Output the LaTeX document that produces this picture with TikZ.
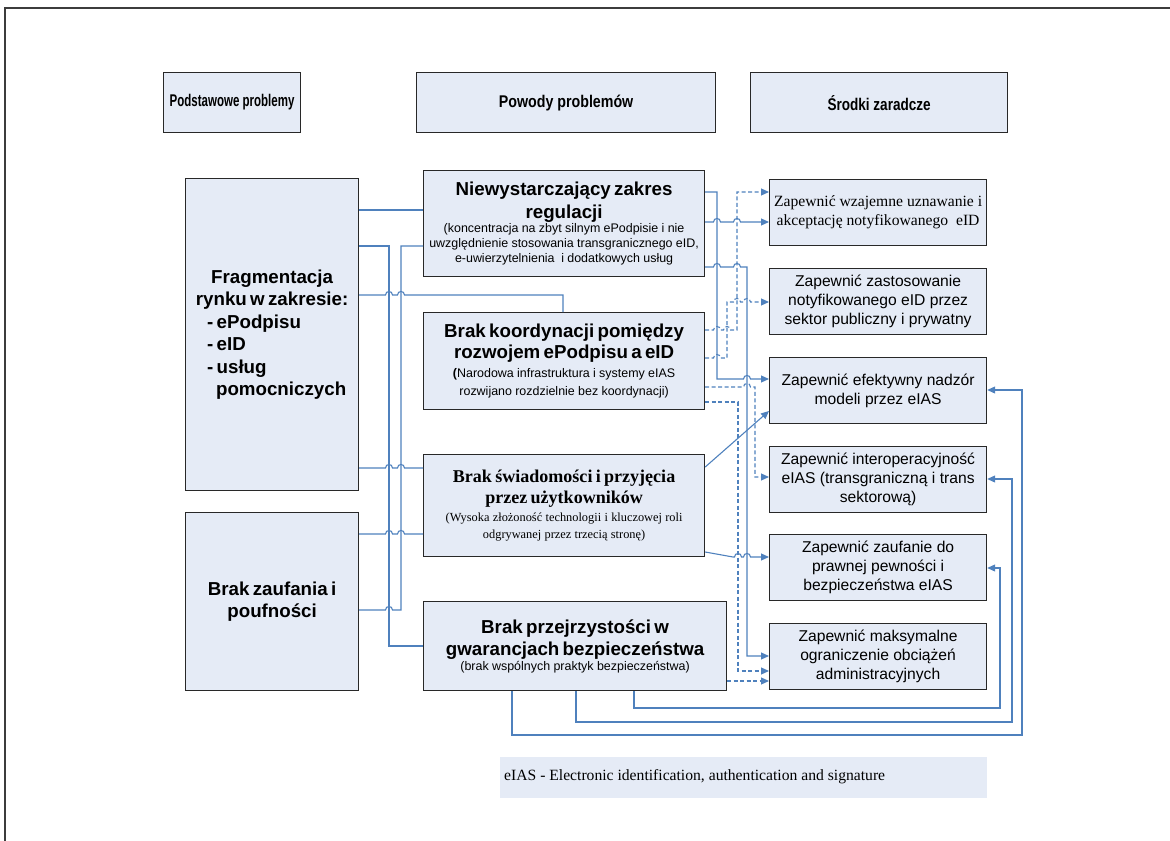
\documentclass[tikz,border=0pt]{standalone}
\usepackage{fontspec}
\setmainfont{Liberation Sans}
\newfontfamily\serifrm{Liberation Serif}
% narrow bold faces for the column headers
\newfontfamily\hdrA{Liberation Sans}[FakeStretch=0.68]
\newfontfamily\hdrB{Liberation Sans}[FakeStretch=0.84]
\newfontfamily\hdrC{Liberation Sans}[FakeStretch=0.80]
\usetikzlibrary{arrows.meta}

\definecolor{boxfill}{RGB}{229,235,246}
\definecolor{wire}{RGB}{79,129,189}
\definecolor{edge}{RGB}{40,40,40}
\definecolor{frame}{RGB}{60,60,60}

% font presets
\newcommand\hdrsize{\fontsize{17}{19}\selectfont\bfseries}
\newcommand\ttlfont{\fontsize{18.8}{22.6}\selectfont\bfseries}
\newcommand\subtxt{\normalfont\fontsize{12.5}{14.8}\selectfont}
\newcommand\rbxfont{\fontsize{15.7}{19}\selectfont}

% a small bridge where a horizontal wire jumps over a vertical one
\newcommand\hop[2]{-- (#1-3.5,#2) .. controls (#1-3.5,#2-4.7) and (#1+3.5,#2-4.7) .. (#1+3.5,#2)}

\tikzset{
  box/.style={draw=edge, line width=1.2bp, fill=boxfill, inner sep=0pt,
    align=center, anchor=north west},
  rbox/.style={box, minimum width=217bp, minimum height=66bp, font=\rbxfont},
  wire/.style={draw=wire, line width=1.1bp},
  arr/.style={wire, -{Triangle[length=8bp,width=7bp]}},
  darr/.style={arr, dash pattern=on 4bp off 2.5bp},
}

\begin{document}
\begin{tikzpicture}[x=1bp, y=-1bp]
\useasboundingbox (0,0) rectangle (1170,841);

% outer frame
\draw[frame, line width=1.8bp] (5,841) -- (5,8) -- (1170,8);

% column headers
\node[box, minimum width=137bp, minimum height=60bp, font=\hdrA\hdrsize] (H1) at (163,72) {Podstawowe problemy};
\node[box, minimum width=299bp, minimum height=60bp, font=\hdrB\hdrsize] (H2) at (416,72) {Powody problemów};
\node[box, minimum width=257bp, minimum height=60bp, font=\hdrC\hdrsize] (H3) at (750,72) {Środki zaradcze};

% basic problems
\node[box, minimum width=173bp, minimum height=312bp, text width=171bp] (L1) at (185,178)
  {\ttlfont Fragmentacja\\ rynku w zakresie:\\
   \makebox[130bp][l]{- ePodpisu}\\
   \makebox[130bp][l]{- eID}\\
   \makebox[130bp][l]{- usług}\\
   \makebox[130bp][l]{\hspace{9bp}pomocniczych}\par};
\node[box, minimum width=173bp, minimum height=178bp, text width=171bp] (L2) at (185,512)
  {\ttlfont Brak zaufania i\\ poufności\par};

% causes
\node[box, minimum width=281bp, minimum height=106bp, text width=278bp] (M1) at (423,170)
  {{\ttlfont Niewystarczający zakres\\ regulacji\par}
   {\subtxt (koncentracja na zbyt silnym ePodpisie i nie\\ uwzględnienie stosowania transgranicznego eID,\\ e-uwierzytelnienia\ \ i dodatkowych usług\par}
   \vspace*{10bp}};
\node[box, minimum width=281bp, minimum height=97bp, text width=278bp] (M2) at (423,312)
  {{\fontsize{18.8}{21.3}\selectfont\bfseries Brak koordynacji pomiędzy\\ rozwojem ePodpisu a eID\par}
   {\normalfont\fontsize{12.5}{18.3}\selectfont \textbf{(}Narodowa infrastruktura i systemy eIAS\\ rozwijano rozdzielnie bez koordynacji)\par}
   \vspace*{4bp}};
\node[box, minimum width=281bp, minimum height=102bp, text width=278bp] (M3) at (423,454)
  {{\serifrm\fontsize{18.1}{21.7}\selectfont\bfseries Brak świadomości i przyjęcia\\ przez użytkowników\par}
   {\normalfont\serifrm\fontsize{12.4}{17.7}\selectfont (Wysoka złożoność technologii i kluczowej roli\\ odgrywanej przez trzecią stronę)\par}};
\node[box, minimum width=303bp, minimum height=89bp, text width=300bp] (M4) at (423,601)
  {{\ttlfont Brak przejrzystości w\\ gwarancjach bezpieczeństwa\par}
   {\subtxt (brak wspólnych praktyk bezpieczeństwa)\par}
   \vspace*{8bp}};

% remedies
\node[rbox, font=\serifrm\rbxfont] (R1) at (769,179) {Zapewnić wzajemne uznawanie i\\ akceptację notyfikowanego\ \ eID};
\node[rbox] (R2) at (769,268) {Zapewnić zastosowanie\\ notyfikowanego eID przez\\ sektor publiczny i prywatny};
\node[rbox] (R3) at (769,357) {Zapewnić efektywny nadzór\\ modeli przez eIAS};
\node[rbox] (R4) at (769,446) {Zapewnić interoperacyjność\\ eIAS (transgraniczną i trans\\ sektorową)};
\node[rbox] (R5) at (769,534) {Zapewnić zaufanie do\\ prawnej pewności i\\ bezpieczeństwa eIAS};
\node[rbox] (R6) at (769,623) {Zapewnić maksymalne\\ ograniczenie obciążeń\\ administracyjnych};

% legend
\node[fill=boxfill, inner sep=0pt, minimum width=487bp, minimum height=41bp, anchor=north west] (leg) at (500,757) {};
\node[anchor=west, inner sep=0pt, font=\serifrm\fontsize{15.7}{18}\selectfont] (legtxt) at (504,777)
  {eIAS - Electronic identification, authentication and signature};

% problems -> causes
\draw[wire] (L1.east |- 0,210) -- (M1.west |- 0,210);
\draw[wire] (L1.east |- 0,246) -- (389,246) -- (389,646) -- (M4.west |- 0,646);
\draw[wire] (L2.east |- 0,610) \hop{389}{610} -- (401,610) -- (401,246) -- (M1.west |- 0,246);
\draw[wire] (L1.east |- 0,295) \hop{389}{295} \hop{401}{295} -- (563,295) -- (M2.north -| 563,0);
\draw[wire] (L1.east |- 0,468) \hop{389}{468} \hop{401}{468} -- (M3.west |- 0,468);
\draw[wire] (L2.east |- 0,534) \hop{389}{534} \hop{401}{534} -- (M3.west |- 0,534);

% causes -> remedies
\draw[arr] (M1.east |- 0,192) -- (717,192) -- (717,379) \hop{747}{379} -- (R3.west |- 0,379);
\draw[arr] (M1.east |- 0,222) \hop{717}{222} \hop{737}{222} -- (R1.west |- 0,222);
\draw[arr] (M1.east |- 0,267) \hop{717}{267} \hop{737}{267} -- (747,267) -- (747,656) -- (R6.west |- 0,656);
\draw[darr] (M2.east |- 0,330) \hop{717}{330} \hop{727}{330} -- (737,330) -- (737,192) -- (R1.west |- 0,192);
\draw[darr] (M2.east |- 0,358) \hop{717}{358} -- (727,358) -- (727,302) \hop{737}{302} \hop{747}{302} -- (R2.west |- 0,302);
\draw[darr] (M2.east |- 0,387) \hop{747}{387} -- (755,387) -- (755,477) -- (R4.west |- 0,477);
\draw[darr] (M2.east |- 0,402) -- (738,402) -- (738,671) -- (R6.west |- 0,671);
\draw[arr] (M3.east |- 0,467) -- (R3.west |- 0,411);
\draw[arr] (M3.east |- 0,552) -- (733,557) \hop{738}{557} \hop{747}{557} -- (R5.west |- 0,557);
\draw[darr] (M4.east |- 0,681) -- (R6.west |- 0,681);

% return paths below the last cause
\draw[arr] (M4.south -| 634,0) -- (634,708) -- (1000,708) -- (1000,568) -- (R5.east |- 0,568);
\draw[arr] (M4.south -| 576,0) -- (576,722) -- (1012,722) -- (1012,479) -- (R4.east |- 0,479);
\draw[arr] (M4.south -| 512,0) -- (512,735) -- (1022,735) -- (1022,390) -- (R3.east |- 0,390);
\end{tikzpicture}
\end{document}
